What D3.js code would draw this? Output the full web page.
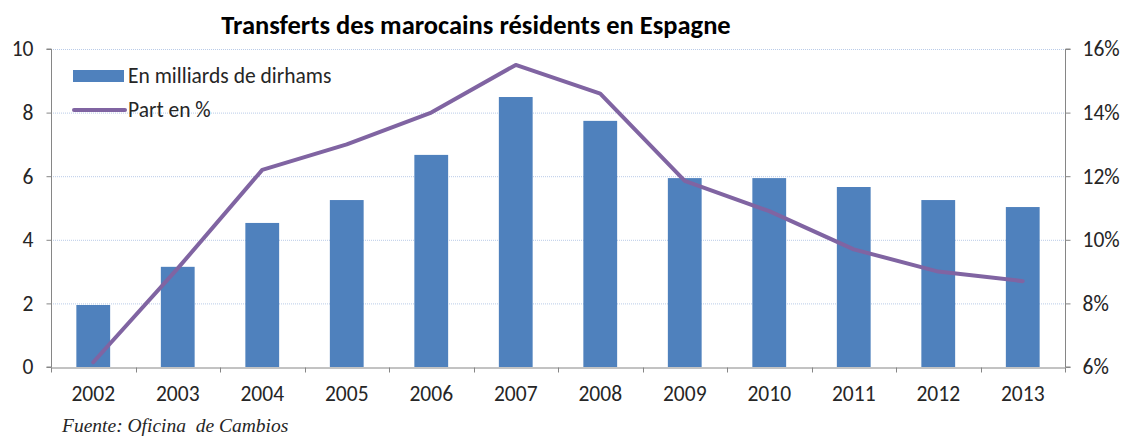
<!DOCTYPE html>
<html>
<head>
<meta charset="utf-8">
<script src="https://cdn.jsdelivr.net/npm/d3@7"></script>
<style>
  body { margin: 0; background: #fff; }
  text { font-family: Carlito, "Open Sans", "Noto Sans", sans-serif; fill: #262626; }
</style>
</head>
<body>
<div id="mainDiv"></div>
<script>
// chart data
var years = ['2002', '2003', '2004', '2005', '2006', '2007', '2008', '2009', '2010', '2011', '2012', '2013'];
var montants = [1.95, 3.15, 4.53, 5.25, 6.67, 8.49, 7.74, 5.94, 5.94, 5.66, 5.25, 5.03];
var parts = [6.15, 9.1, 12.2, 13.0, 14.0, 15.5, 14.6, 11.85, 10.9, 9.7, 9.0, 8.7];
var leftTicks = [0, 2, 4, 6, 8, 10];
var rightTicks = [6, 8, 10, 12, 14, 16];

var _width = 1126, _height = 437,
    _left = 51, _right = 1065, _top = 49, _bottom = 367,
    _font = 21.5;

var svg = d3.select('#mainDiv').append('svg')
    .attr('width', _width)
    .attr('height', _height);

var x = d3.scaleBand().domain(years).range([_left, _right]).paddingInner(0.6).paddingOuter(0.3);
var xb = d3.scaleBand().domain(years).range([_left, _right]);
var yL = d3.scaleLinear().domain([0, 10]).range([_bottom, _top]);
var yR = d3.scaleLinear().domain([6, 16]).range([_bottom, _top]);

// gridlines
svg.append('g')
    .selectAll('line')
    .data(leftTicks.slice(1))
    .join('line')
    .attr('x1', _left).attr('x2', _right)
    .attr('y1', function (d) { return yL(d) + 0.5; })
    .attr('y2', function (d) { return yL(d) + 0.5; })
    .attr('stroke', '#b9cbe8')
    .attr('stroke-width', 1)
    .attr('stroke-dasharray', '1,1');

// bars
svg.append('g')
    .selectAll('rect')
    .data(years)
    .join('rect')
    .attr('x', function (d) { return x(d); })
    .attr('y', function (d, i) { return yL(montants[i]); })
    .attr('width', x.bandwidth())
    .attr('height', function (d, i) { return yL(0) - yL(montants[i]); })
    .attr('fill', '#4f81bd');

// axes
var axL = svg.append('g')
    .attr('transform', 'translate(' + (_left + 0.5) + ',0)')
    .call(d3.axisLeft(yL).tickValues(leftTicks).tickSize(5).tickPadding(13));
var axR = svg.append('g')
    .attr('transform', 'translate(' + (_right + 0.5) + ',0)')
    .call(d3.axisRight(yR).tickValues(rightTicks).tickSize(5).tickPadding(12)
        .tickFormat(function (d) { return d + '%'; }));
var axB = svg.append('g')
    .attr('transform', 'translate(0,' + (_bottom + 0.5) + ')')
    .call(d3.axisBottom(xb).tickSize(0).tickPadding(18));

// ticks between categories on the x axis
axB.append('g')
    .selectAll('line')
    .data(years.concat(['end']))
    .join('line')
    .attr('x1', function (d, i) { return Math.round(_left + i * xb.bandwidth()) + 0.5; })
    .attr('x2', function (d, i) { return Math.round(_left + i * xb.bandwidth()) + 0.5; })
    .attr('y1', 0).attr('y2', 5)
    .attr('stroke', '#868686');

[axL, axR, axB].forEach(function (ax) {
    ax.select('.domain').attr('stroke', '#868686');
    ax.selectAll('.tick line').attr('stroke', '#868686');
    ax.selectAll('.tick text')
        .attr('font-family', 'Carlito, "Open Sans", "Noto Sans", sans-serif')
        .attr('font-size', _font)
        .attr('fill', '#262626');
});
axL.select('.domain').attr('d', 'M-5,' + _top + 'H0V' + _bottom + 'H-5');
axR.select('.domain').attr('d', 'M5,' + _top + 'H0V' + _bottom + 'H5');

// line
var line = d3.line()
    .x(function (d, i) { return xb(years[i]) + xb.bandwidth() / 2; })
    .y(function (d) { return yR(d); });
svg.append('path')
    .datum(parts)
    .attr('d', line)
    .attr('fill', 'none')
    .attr('stroke', '#8064a2')
    .attr('stroke-width', 4)
    .attr('stroke-linejoin', 'round')
    .attr('stroke-linecap', 'round');

// title
svg.append('text')
    .attr('x', 476).attr('y', 34)
    .attr('text-anchor', 'middle')
    .attr('font-size', 26.5)
    .attr('font-weight', 'bold')
    .style('fill', '#000')
    .text('Transferts des marocains résidents en Espagne');

// legend
var legend = svg.append('g');
legend.append('rect')
    .attr('x', 73).attr('y', 70).attr('width', 51).attr('height', 12)
    .attr('fill', '#4f81bd');
legend.append('text')
    .attr('x', 128).attr('y', 83)
    .attr('font-size', _font)
    .text('En milliards de dirhams');
legend.append('line')
    .attr('x1', 74).attr('x2', 125).attr('y1', 110).attr('y2', 110)
    .attr('stroke', '#8064a2').attr('stroke-width', 4).attr('stroke-linecap', 'round');
legend.append('text')
    .attr('x', 128).attr('y', 117)
    .attr('font-size', _font)
    .text('Part en %');

// source
svg.append('text')
    .attr('x', 62).attr('y', 432)
    .attr('font-size', 19.5)
    .attr('font-style', 'italic')
    .style('font-family', '"Liberation Serif", "DejaVu Serif", serif')
    .text('Fuente: Oficina  de Cambios')
    .attr('xml:space', 'preserve');
</script>
</body>
</html>
